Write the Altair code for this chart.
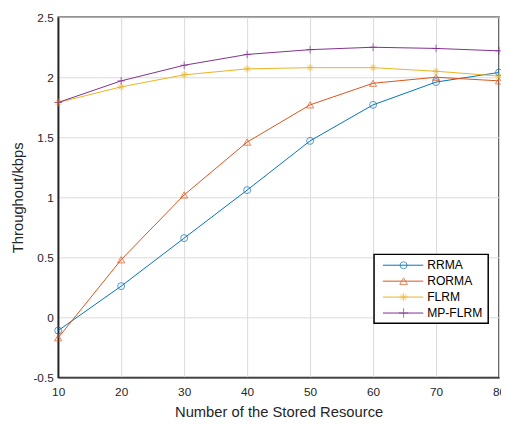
import altair as alt
import pandas as pd

x_vals = [10, 20, 30, 40, 50, 60, 70, 80]
series = ["RRMA", "RORMA", "FLRM", "MP-FLRM"]
rrma = [-0.11, 0.26, 0.66, 1.06, 1.47, 1.77, 1.96, 2.04]
rorma = [-0.17, 0.48, 1.02, 1.46, 1.77, 1.95, 2.00, 1.97]
flrm = [1.79, 1.92, 2.02, 2.07, 2.08, 2.08, 2.05, 2.01]
mpflrm = [1.79, 1.97, 2.10, 2.19, 2.23, 2.25, 2.24, 2.22]
x_ticks = [10, 20, 30, 40, 50, 60, 70, 80]
y_ticks = [-0.5, 0, 0.5, 1, 1.5, 2, 2.5]

colors = ["#0072BD", "#D95319", "#EDB120", "#7E2F8E"]
ASTER = "M-1,0L1,0M0,-1L0,1M-0.7,-0.7L0.7,0.7M-0.7,0.7L0.7,-0.7"
PLUS = "M-1,0L1,0M0,-1L0,1"
shapes = ["circle", "triangle-up", ASTER, PLUS]
sizes = [50, 60, 70, 90]

rows = []
for name, vals in zip(series, [rrma, rorma, flrm, mpflrm]):
    for xv, yv in zip(x_vals, vals):
        rows.append({"x": xv, "y": yv, "series": name})
df = pd.DataFrame(rows)

FONT = "Liberation Sans"
TXT = "#262626"

xenc = alt.X("x:Q", scale=alt.Scale(domain=[10, 80], nice=False),
             axis=alt.Axis(values=x_ticks, title="Number of the Stored Resource",
                           labelExpr="'' + datum.value", ticks=False, labelFlush=False,
                           labelPadding=9, titlePadding=8))
yenc = alt.Y("y:Q", scale=alt.Scale(domain=[-0.5, 2.5], nice=False),
             axis=alt.Axis(values=y_ticks, title="Throughout/kbps",
                           labelExpr="'' + datum.value", ticks=False, labelFlush=False,
                           labelPadding=5, titlePadding=8))
cenc = alt.Color("series:N", scale=alt.Scale(domain=series, range=colors), legend=None)

base = alt.Chart(df)
lines = base.mark_line(strokeWidth=1).encode(x=xenc, y=yenc, color=cenc, detail="series:N")
pts = base.mark_point(filled=False, strokeWidth=1).encode(
    x="x:Q", y="y:Q", color=cenc,
    shape=alt.Shape("series:N", scale=alt.Scale(domain=series, range=shapes), legend=None),
    size=alt.Size("series:N", scale=alt.Scale(domain=series, range=sizes), legend=None),
)

layers = [lines, pts]

# manual legend
box = alt.Chart(pd.DataFrame({"a": [0]})).mark_rect(
    fill="white", stroke="#000000", strokeWidth=1.5
).encode(x=alt.value(321), x2=alt.value(437), y=alt.value(241), y2=alt.value(311))
layers.append(box)
for i, name in enumerate(series):
    yy = 252 + 16.2 * i
    one = alt.Chart(pd.DataFrame({"name": [name]}))
    layers.append(one.mark_rule(color=colors[i], strokeWidth=1).encode(
        x=alt.value(330), x2=alt.value(371), y=alt.value(yy)))
    layers.append(one.mark_point(shape=shapes[i], color=colors[i], filled=False,
                                 strokeWidth=1, size=sizes[i]).encode(
        x=alt.value(351), y=alt.value(yy)))
    layers.append(one.mark_text(align="left", baseline="middle", font=FONT,
                                fontSize=12.3, color="#000000").encode(
        x=alt.value(375), y=alt.value(yy), text="name:N"))

chart = alt.layer(*layers).properties(
    width=448, height=366,
    autosize=alt.AutoSizeParams(type="none"),
    padding={"left": 51, "top": 6, "right": 2, "bottom": 45},
).configure_view(stroke="#262626", strokeWidth=1.5).configure_axis(
    labelFont=FONT, titleFont=FONT, labelFontSize=12, titleFontSize=15,
    labelColor=TXT, titleColor=TXT, titleFontWeight="normal",
    domainColor="#262626", domainWidth=1.5,
    gridColor="#dadada", gridWidth=1,
)

chart.save("out.html", embed_options={"renderer": "svg", "actions": False})
